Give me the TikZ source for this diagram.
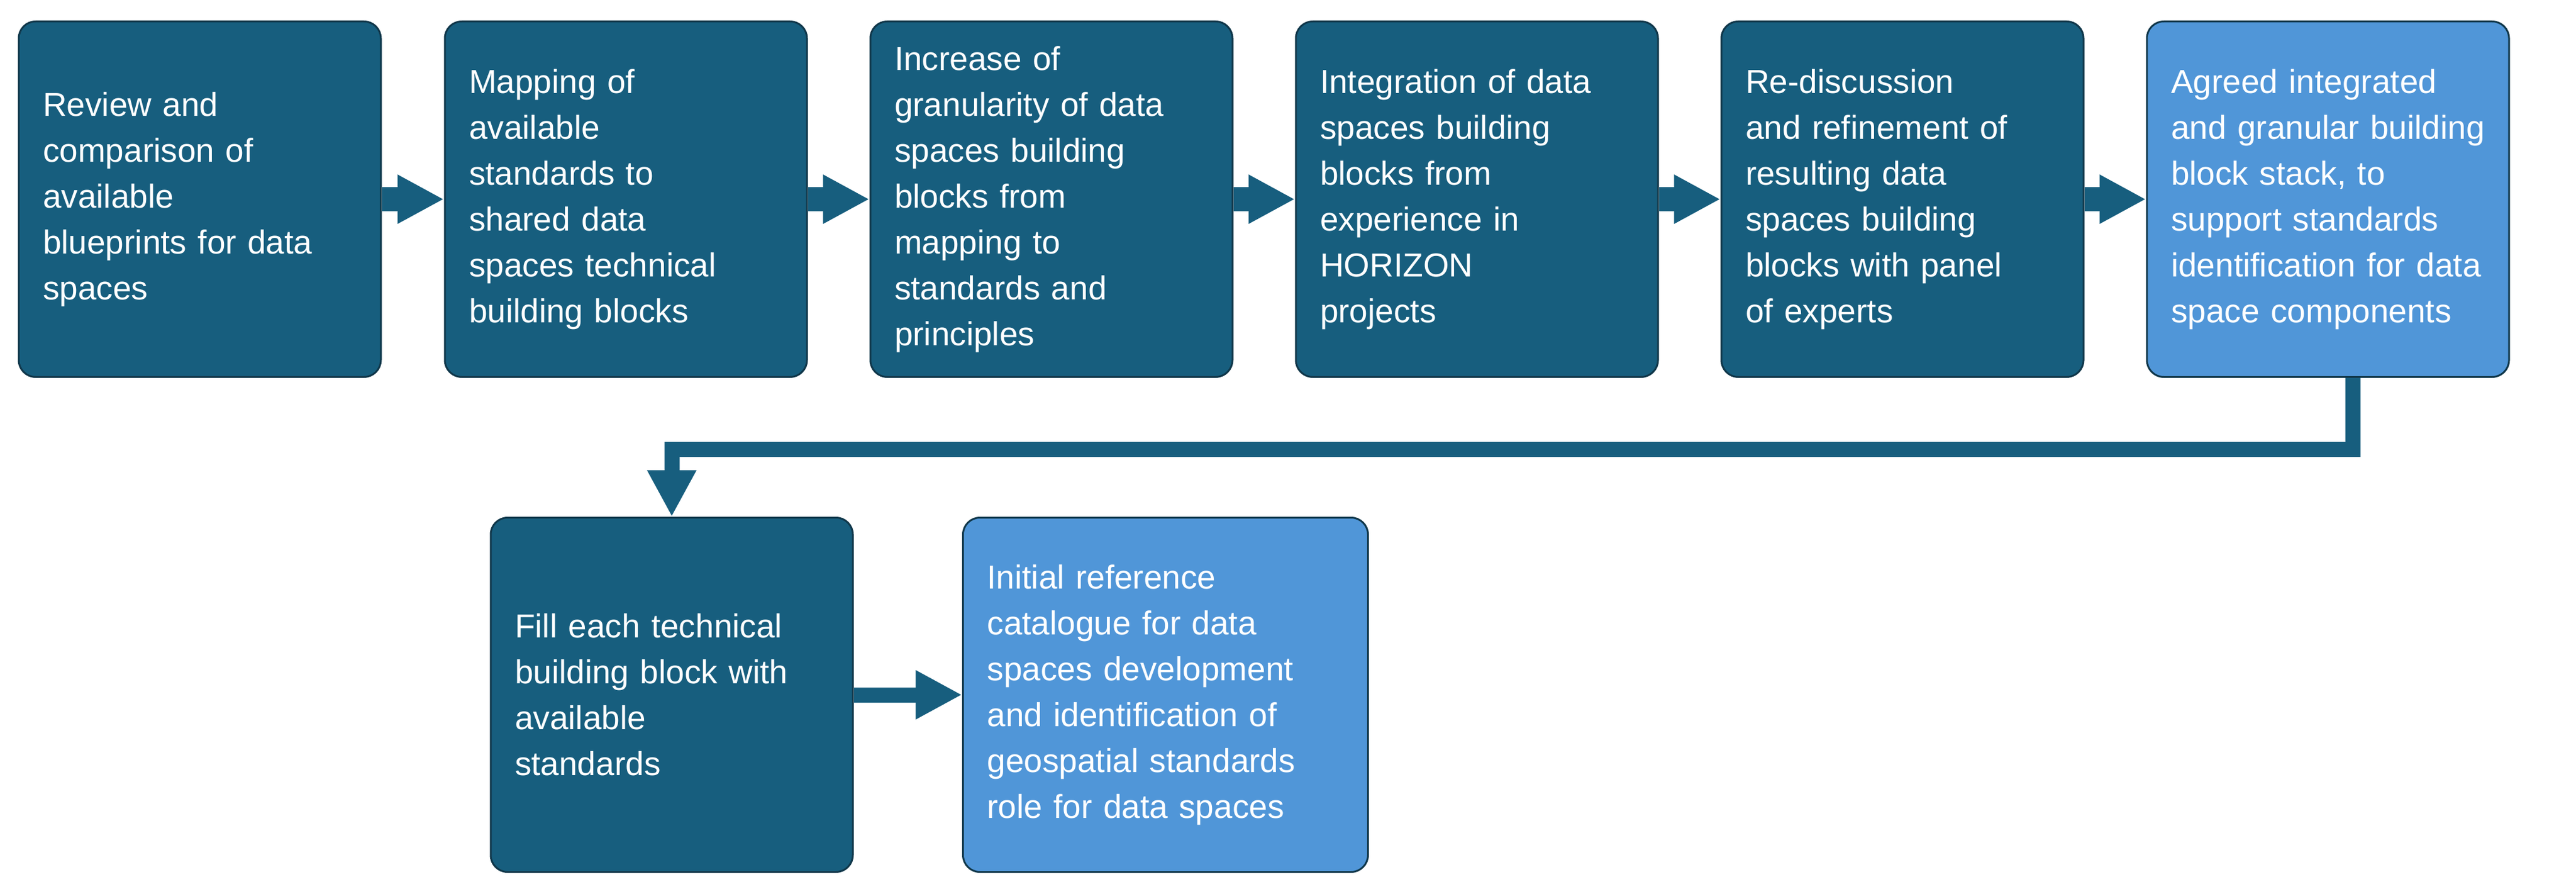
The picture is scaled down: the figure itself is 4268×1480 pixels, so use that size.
\documentclass[tikz,border=0pt]{standalone}
\usepackage{fontspec}
\setmainfont{Liberation Sans}
\usetikzlibrary{arrows.meta,calc}
\definecolor{dk}{HTML}{175E7E}
\definecolor{lt}{HTML}{5096D8}
\definecolor{bd}{HTML}{10374A}
\tikzset{
  box/.style={draw=bd, line width=3pt, rounded corners=28pt, text=white,
    minimum height=589pt, inner xsep=40pt, text width=520pt, align=left,
    font=\fontsize{55}{76}\selectfont},
  dbox/.style={box, fill=dk},
  lbox/.style={box, fill=lt},
  big/.style={dk, line width=40pt, -{Triangle[width=76pt,length=77pt]}},
  thin/.style={dk, line width=25pt, -{Triangle[width=76pt,length=77pt]}},
}
\begin{document}
\begin{tikzpicture}[x=1pt,y=-1pt]
\useasboundingbox (0,0) rectangle (4268,1480);
\node[dbox] (b1) at (331,330) {Review and\\comparison of\\available\\blueprints for data\\spaces};
\node[dbox] (b2) at (1037,330) {Mapping of\\available\\standards to\\shared data\\spaces technical\\building blocks};
\node[dbox] (b3) at (1742,330) {Increase of\\granularity of data\\spaces building\\blocks from\\mapping to\\standards and\\principles};
\node[dbox] (b4) at (2447,330) {Integration of data\\spaces building\\blocks from\\experience in\\HORIZON\\projects};
\node[dbox] (b5) at (3152,330) {Re-discussion\\and refinement of\\resulting data\\spaces building\\blocks with panel\\of experts};
\node[lbox] (b6) at (3857,330) {Agreed integrated\\and granular building\\block stack, to\\support standards\\identification for data\\space components};
\node[dbox, minimum height=587pt] (b7) at (1113,1151) {Fill each technical\\building block with\\available\\standards};
\node[lbox, minimum height=587pt, text width=591pt] (b8) at (1931,1151) {Initial reference\\catalogue for data\\spaces development\\and identification of\\geospatial standards\\role for data spaces};
\draw[big] (b1) -- (b2);
\draw[big] (b2) -- (b3);
\draw[big] (b3) -- (b4);
\draw[big] (b4) -- (b5);
\draw[big] (b5) -- (b6);
\coordinate (s) at ($(b6.south)+(41,0)$);
\coordinate (c1) at ($(s)+(0,118)$);
\coordinate (c2) at (c1 -| b7.north);
\draw[thin, line join=miter] (s) -- (c1) -- (c2) -- (b7.north);
\draw[thin] (b7) -- (b8);
\end{tikzpicture}
\end{document}
